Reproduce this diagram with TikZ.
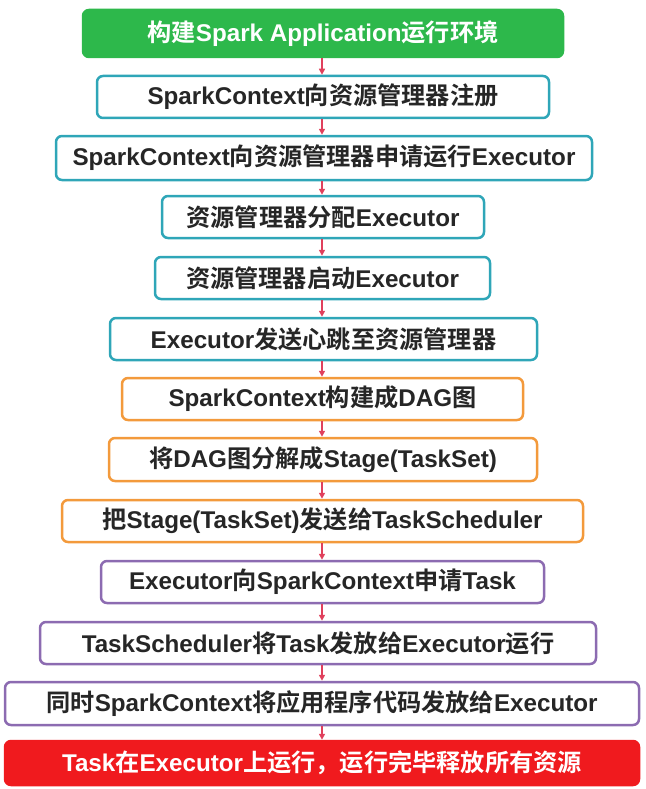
\documentclass[tikz,border=0pt]{standalone}
\usepackage{fontspec}
\setmainfont{Liberation Sans}
\newfontfamily\cjk{Noto Sans CJK SC}[BoldFont={Noto Sans CJK SC Bold}]
\newcommand{\zh}[1]{{\cjk #1}}
\usetikzlibrary{arrows.meta}
\definecolor{tealb}{HTML}{2FA6B8}
\definecolor{orangeb}{HTML}{F39A3C}
\definecolor{purpleb}{HTML}{8C6BB1}
\definecolor{greenf}{HTML}{2DB84B}
\definecolor{redf}{HTML}{F01A1E}
\definecolor{arrowc}{HTML}{E0405C}
\tikzset{
  box/.style={draw, line width=2.5pt, rounded corners=6pt, fill=white, inner sep=0pt,
    font=\fontsize{24.2}{27}\selectfont\bfseries, text=black!85},
  tealbox/.style={box, draw=tealb},
  orangebox/.style={box, draw=orangeb},
  purplebox/.style={box, draw=purpleb},
  flow/.style={draw=arrowc, line width=1.6pt, -{Triangle[length=6pt,width=6pt]}},
}
\begin{document}
\begin{tikzpicture}[x=1pt,y=-1pt]
\useasboundingbox (0,0) rectangle (645,789);
\node[box, draw=greenf, fill=greenf, text=white, minimum width=480pt, minimum height=47pt] (n1) at (323,33.5) {\zh{构建}Spark Application\zh{运行环境}};
\node[tealbox, minimum width=452pt, minimum height=42pt] (n2) at (323,97) {SparkContext\zh{向资源管理器注册}};
\node[tealbox, minimum width=536pt, minimum height=44pt] (n3) at (324,158) {SparkContext\zh{向资源管理器申请运行}Executor};
\node[tealbox, minimum width=322pt, minimum height=42pt] (n4) at (323,217) {\zh{资源管理器分配}Executor};
\node[tealbox, minimum width=335pt, minimum height=42pt] (n5) at (322.5,278) {\zh{资源管理器启动}Executor};
\node[tealbox, minimum width=427pt, minimum height=42pt] (n6) at (323.5,339) {Executor\zh{发送心跳至资源管理器}};
\node[orangebox, minimum width=401pt, minimum height=42pt] (n7) at (322.5,399) {SparkContext\zh{构建成}DAG\zh{图}};
\node[orangebox, minimum width=428pt, minimum height=43pt] (n8) at (323,459.5) {\zh{将}DAG\zh{图分解成}Stage(TaskSet)};
\node[orangebox, minimum width=521pt, minimum height=42pt] (n9) at (322.5,521) {\zh{把}Stage(TaskSet)\zh{发送给}TaskScheduler};
\node[purplebox, minimum width=443pt, minimum height=42pt] (n10) at (322.5,582) {Executor\zh{向}SparkContext\zh{申请}Task};
\node[purplebox, minimum width=556pt, minimum height=42pt] (n11) at (318,643) {TaskScheduler\zh{将}Task\zh{发放给}Executor\zh{运行}};
\node[purplebox, minimum width=634pt, minimum height=43pt] (n12) at (322,703.5) {\zh{同时}SparkContext\zh{将应用程序代码发放给}Executor};
\node[box, draw=redf, fill=redf, text=white, minimum width=634pt, minimum height=44pt] (n13) at (322,763) {Task\zh{在}Executor\zh{上运行，运行完毕释放所有资源}};
\foreach \a/\b in {n1/n2,n2/n3,n3/n4,n4/n5,n5/n6,n6/n7,n7/n8,n8/n9,n9/n10,n10/n11,n11/n12,n12/n13}
  \draw[flow] (\a.south -| 322,0) -- (\b.north -| 322,0);
\end{tikzpicture}
\end{document}
